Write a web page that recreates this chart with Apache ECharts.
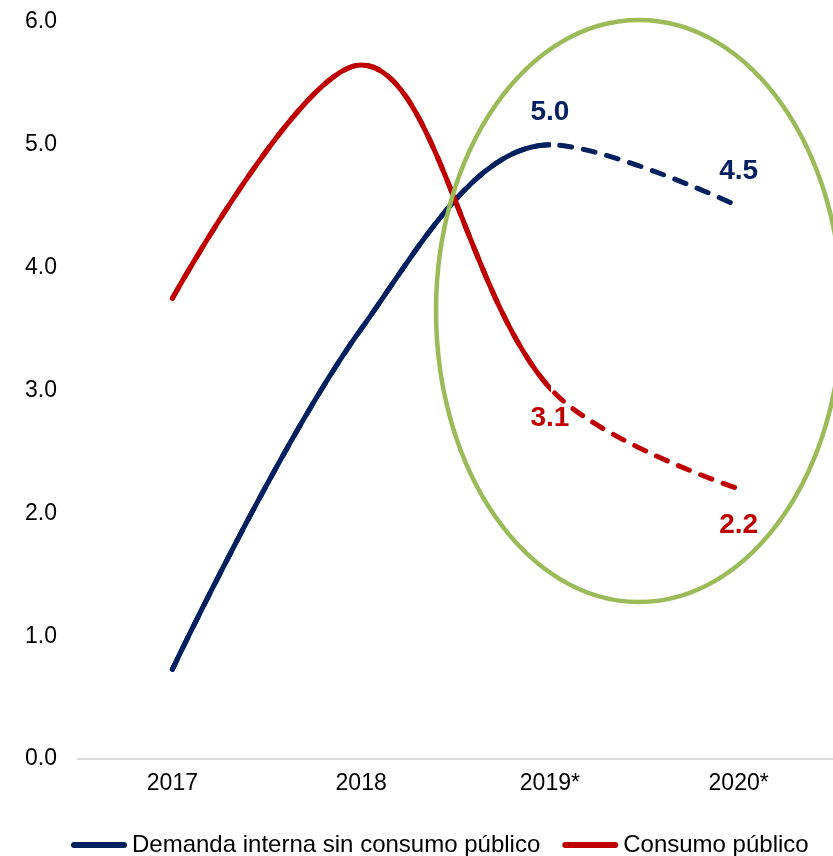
<!DOCTYPE html>
<html>
<head>
<meta charset="utf-8">
<script src="https://cdn.jsdelivr.net/npm/echarts@6/dist/echarts.min.js"></script>
<style>
  html, body { margin: 0; padding: 0; background: #fff; }
  #chart { width: 833px; height: 856px; }
</style>
</head>
<body>
<div id="chart"></div>
<script>
const years = ["2017", "2018", "2019*", "2020*"];
const demanda = [0.73, 3.5, 5.0, 4.5];
const demandaLabels = ["", "", "5.0", "4.5"];
const consumo = [3.75, 5.65, 3.02, 2.2];
const consumoLabels = ["", "", "3.1", "2.2"];
const yTicks = [0, 6, 1]; // min, max, interval

const NAVY = "#002060";
const RED = "#C00000";
const FONT = "Liberation Sans";
const LEGEND_ICON = "path://M3,0 L53,0 A3,3 0 0 1 53,6 L3,6 A3,3 0 0 1 3,0 Z";

// solid up to 2019 (2/3 of the path width), transparent after
function solidUntil2019(color) {
  return new echarts.graphic.LinearGradient(0, 0, 1, 0, [
    { offset: 0, color: color },
    { offset: 2 / 3, color: color },
    { offset: 2 / 3, color: "rgba(0,0,0,0)" },
    { offset: 1, color: "rgba(0,0,0,0)" },
  ]);
}

function labelled(values, labels, pos, dist) {
  return values.map((v, i) => ({
    value: v,
    label: { show: labels[i] !== "", formatter: labels[i], position: pos[i], distance: dist[i] },
  }));
}

function lineSeries(name, values, color, solid, labelData) {
  return {
    name: name,
    type: "line",
    smooth: 0.35,
    symbol: "circle",
    symbolSize: 2,
    showSymbol: !solid,
    z: solid ? 4 : 3,
    itemStyle: { color: solid ? color : "rgba(0,0,0,0)" },
    lineStyle: {
      width: 5,
      cap: "round",
      color: solid ? solidUntil2019(color) : color,
      type: solid ? "solid" : [12, 12],
    },
    label: { color: color, fontFamily: FONT, fontWeight: "bold", fontSize: 28 },
    data: labelData || values,
  };
}

const chart = echarts.init(document.getElementById("chart"));
chart.setOption({
  animation: false,
  grid: { left: 78, right: 0, top: 22, bottom: 97 },
  legend: {
    left: 66,
    top: 828,
    itemWidth: 56,
    itemHeight: 6,
    itemGap: 22,
    textStyle: { fontFamily: FONT, fontSize: 24, color: "#000" },
    data: [
      { name: "Demanda interna sin consumo público", icon: LEGEND_ICON, itemStyle: { color: NAVY } },
      { name: "Consumo público", icon: LEGEND_ICON, itemStyle: { color: RED } },
    ],
  },
  xAxis: {
    type: "category",
    data: years,
    axisLine: { lineStyle: { color: "#d9d9d9", width: 2 } },
    axisTick: { show: false },
    axisLabel: { color: "#000", fontFamily: FONT, fontSize: 23, margin: 13 },
  },
  yAxis: {
    type: "value",
    min: yTicks[0],
    max: yTicks[1],
    interval: yTicks[2],
    splitLine: { show: false },
    axisLabel: {
      color: "#000",
      fontFamily: FONT,
      fontSize: 23,
      margin: 21,
      formatter: (v) => v.toFixed(1),
    },
  },
  series: [
    lineSeries("Demanda proyección", demanda, NAVY, false,
      labelled(demanda, demandaLabels, ["top", "top", "top", "top"], [0, 0, 18, 20])),
    lineSeries("Demanda interna sin consumo público", demanda, NAVY, true),
    lineSeries("Consumo proyección", consumo, RED, false,
      labelled(consumo, consumoLabels, ["bottom", "bottom", "bottom", "bottom"], [0, 0, 15, 22])),
    lineSeries("Consumo público", consumo, RED, true),
  ],
  graphic: [
    {
      type: "ellipse",
      z: 10,
      silent: true,
      shape: { cx: 639, cy: 311, rx: 203, ry: 291 },
      style: { fill: "none", stroke: "#9BBB59", lineWidth: 4.5 },
    },
  ],
});
</script>
</body>
</html>
